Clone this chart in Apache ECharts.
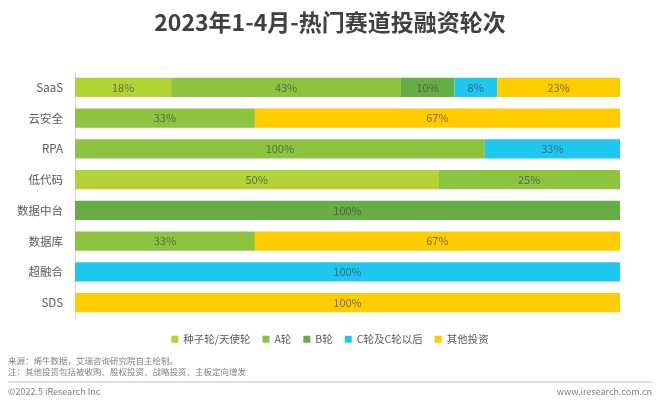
<!DOCTYPE html>
<html><head><meta charset="utf-8">
<script src="https://cdn.jsdelivr.net/npm/echarts@6/dist/echarts.min.js"></script>
<style>html,body{margin:0;padding:0;background:#fff}#c{width:660px;height:403px}</style>
</head><body><div id="c"></div>
<script>
var categories = ['SaaS','云安全','RPA','低代码','数据中台','数据库','超融合','SDS'];
var seriesNames = ['种子轮/天使轮','A轮','B轮','C轮及C轮以后','其他投资'];
var seedRound = [18, 0, 0, 50, 0, 0, 0, 0];
var roundA    = [43, 33, 100, 25, 0, 33, 0, 0];
var roundB    = [10, 0, 0, 0, 100, 0, 0, 0];
var roundC    = [8, 0, 33, 0, 0, 0, 100, 0];
var otherInv  = [23, 67, 0, 0, 0, 67, 0, 100];
var colors = ['#b3d235','#8cc33f','#66ad46','#1fc7ef','#ffcc00'];

var all = [seedRound, roundA, roundB, roundC, otherInv];
var totals = categories.map(function(_, i){ return all.reduce(function(s, a){ return s + a[i]; }, 0); });

var series = all.map(function(arr, k){
  return {
    name: seriesNames[k], type: 'bar', stack: 'total', barCategoryGap: '37%',
    itemStyle: {color: colors[k]},
    label: {show: true, position: 'inside', color: 'rgba(70,70,70,0.72)', fontSize: 11,
      fontFamily: 'Noto Sans CJK SC',
      formatter: function(p){ return p.data.raw ? p.data.raw + '%' : ''; }},
    data: arr.map(function(v, i){ return {value: v / totals[i] * 100, raw: v}; })
  };
});

var chart = echarts.init(document.getElementById('c'));
chart.setOption({
  animation: false,
  title: {text: '2023年1-4月-热门赛道投融资轮次', left: 'center', top: 6,
    textStyle: {fontSize: 23, fontWeight: 'bold', color: '#404040', fontFamily: 'Noto Sans CJK SC'}},
  legend: {top: 329, left: 'center', itemWidth: 7, itemHeight: 7, itemGap: 12,
    icon: 'rect', textStyle: {fontSize: 10.5, color: '#595959', fontFamily: 'Noto Sans CJK SC'},
    data: seriesNames},
  grid: {left: 75, right: 40, top: 72, height: 246},
  xAxis: {type: 'value', min: 0, max: 100, show: false},
  yAxis: {type: 'category', data: categories, inverse: true,
    axisLine: {lineStyle: {color: '#d9d9d9'}}, axisTick: {show: false},
    axisLabel: {color: '#595959', fontSize: 11.5, margin: 12, fontFamily: 'Noto Sans CJK SC'}},
  series: series,
  graphic: [
    {type: 'text', left: 8, top: 357, style: {text: '来源：烯牛数据，艾瑞咨询研究院自主绘制。', fontSize: 8.5, fill: '#7f7f7f', fontFamily: 'Noto Sans CJK SC'}},
    {type: 'text', left: 8, top: 368, style: {text: '注：其他投资包括被收购、股权投资、战略投资、主板定向增发', fontSize: 8.5, fill: '#7f7f7f', fontFamily: 'Noto Sans CJK SC'}},
    {type: 'line', shape: {x1: 8, y1: 382, x2: 652, y2: 382}, style: {stroke: '#bfbfbf', lineWidth: 1}},
    {type: 'text', left: 8, top: 387, style: {text: '©2022.5 iResearch Inc', fontSize: 9, fill: '#7f7f7f', fontFamily: 'Noto Sans CJK SC'}},
    {type: 'text', right: 8, top: 387, style: {text: 'www.iresearch.com.cn', fontSize: 9, fill: '#7f7f7f', fontFamily: 'Noto Sans CJK SC'}}
  ]
});
</script></body></html>
